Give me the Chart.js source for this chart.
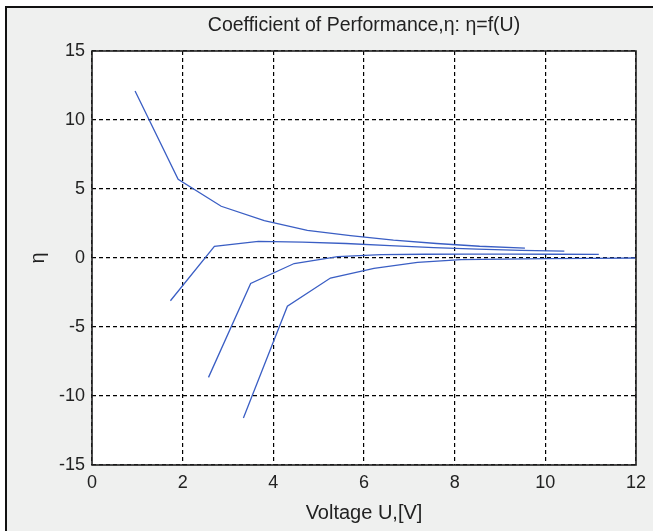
<!DOCTYPE html>
<html>
<head>
<meta charset="utf-8">
<script src="https://cdn.jsdelivr.net/npm/chart.js@4/dist/chart.umd.min.js"></script>
<style>
  html, body { margin: 0; padding: 0; background: #fff; }
  #frame {
    position: absolute; left: 5px; top: 6px; width: 648px; height: 525px;
    border-left: 2px solid #111; border-top: 2px solid #111;
    background: #eff0ef; box-sizing: border-box;
  }
  #myChart { position: absolute; left: 0; top: 0; }
</style>
</head>
<body>
<div id="frame"></div>
<canvas id="myChart" width="653" height="531"></canvas>
<script>
// Voltage U [V] and coefficient of performance eta, one pair per curve
const u1 = [0.95, 1.90, 2.85, 3.80, 4.75, 5.70, 6.65, 7.60, 8.55, 9.55];
const eta1 = [12.1, 5.7, 3.75, 2.7, 2.0, 1.62, 1.3, 1.05, 0.85, 0.72];

const u2 = [1.73, 2.70, 3.67, 4.64, 5.60, 6.57, 7.54, 8.50, 9.47, 10.42];
const eta2 = [-3.1, 0.85, 1.2, 1.15, 1.05, 0.9, 0.75, 0.65, 0.55, 0.5];

const u3 = [2.57, 3.50, 4.46, 5.42, 6.38, 7.34, 8.30, 9.26, 10.22, 11.18];
const eta3 = [-8.65, -1.85, -0.4, 0.1, 0.25, 0.27, 0.28, 0.28, 0.27, 0.26];

const u4 = [3.34, 4.31, 5.26, 6.22, 7.18, 8.14, 9.10, 10.06, 11.02, 11.99];
const eta4 = [-11.6, -3.5, -1.45, -0.75, -0.32, -0.12, -0.08, -0.04, -0.02, 0];

const xTicks = [0, 2, 4, 6, 8, 10, 12];
const yTicks = [-15, -10, -5, 0, 5, 10, 15];

// no narrow arial here, so plain liberation sans a bit smaller
const FONT = "'Liberation Sans Narrow', 'Arial Narrow', 'Liberation Sans', sans-serif";
const LINE = '#3a5ec4';

function pairs(xs, ys) {
    return xs.map((x, i) => ({x: x, y: ys[i]}));
}

// white plot area and a solid box round it, like matlab axes
const axesBox = {
    id: 'axesBox',
    beforeDraw(chart) {
        const a = chart.chartArea, ctx = chart.ctx;
        ctx.save();
        ctx.fillStyle = '#fff';
        ctx.fillRect(a.left, a.top, a.right - a.left, a.bottom - a.top);
        ctx.restore();
    },
    afterDraw(chart) {
        const a = chart.chartArea, ctx = chart.ctx;
        ctx.save();
        ctx.strokeStyle = '#222';
        ctx.lineWidth = 1.6;
        ctx.strokeRect(a.left, a.top, a.right - a.left, a.bottom - a.top);
        ctx.restore();
    }
};

const gridOpts = {
    color: '#000',
    lineWidth: 1.2,
    drawTicks: false
};

const chart = new Chart(document.getElementById('myChart'), {
    type: 'line',
    data: {
        datasets: [
            {data: pairs(u1, eta1)},
            {data: pairs(u2, eta2)},
            {data: pairs(u3, eta3)},
            {data: pairs(u4, eta4)}
        ].map(d => Object.assign(d, {
            borderColor: LINE,
            borderWidth: 1.3,
            pointRadius: 0,
            tension: 0,
            fill: false
        }))
    },
    options: {
        responsive: false,
        animation: false,
        devicePixelRatio: 1,
        layout: {padding: {left: 0, top: 0, right: 16, bottom: 0}},
        plugins: {
            legend: {display: false},
            tooltip: {enabled: false},
            title: {
                display: true,
                fullSize: false, // center over the plot, not the whole canvas
                text: 'Coefficient of Performance,η: η=f(U)',
                color: '#222',
                font: {family: FONT, size: 19.5, weight: 'normal'},
                padding: {top: 14, bottom: 13.6}
            }
        },
        scales: {
            x: {
                type: 'linear',
                min: 0,
                max: 12,
                afterBuildTicks: s => { s.ticks = xTicks.map(v => ({value: v})); },
                afterFit: s => { s.height = 66; },
                grid: Object.assign({}, gridOpts),
                border: {display: false, dash: [4, 3]},
                ticks: {color: '#222', padding: 7, font: {family: FONT, size: 18}},
                title: {
                    display: true,
                    text: 'Voltage U,[V]',
                    color: '#222',
                    font: {family: FONT, size: 20},
                    padding: {top: 0, bottom: 6}
                }
            },
            y: {
                type: 'linear',
                min: -15,
                max: 15,
                afterBuildTicks: s => { s.ticks = yTicks.map(v => ({value: v})); },
                afterFit: s => { s.width = 92; },
                grid: Object.assign({}, gridOpts),
                border: {display: false, dash: [4, 3]},
                ticks: {color: '#222', padding: 7, font: {family: FONT, size: 18}},
                title: {
                    display: true,
                    text: 'η',
                    color: '#222',
                    font: {family: FONT, size: 20},
                    padding: {top: 26, bottom: 0}
                }
            }
        }
    },
    plugins: [axesBox]
});
</script>
</body>
</html>
